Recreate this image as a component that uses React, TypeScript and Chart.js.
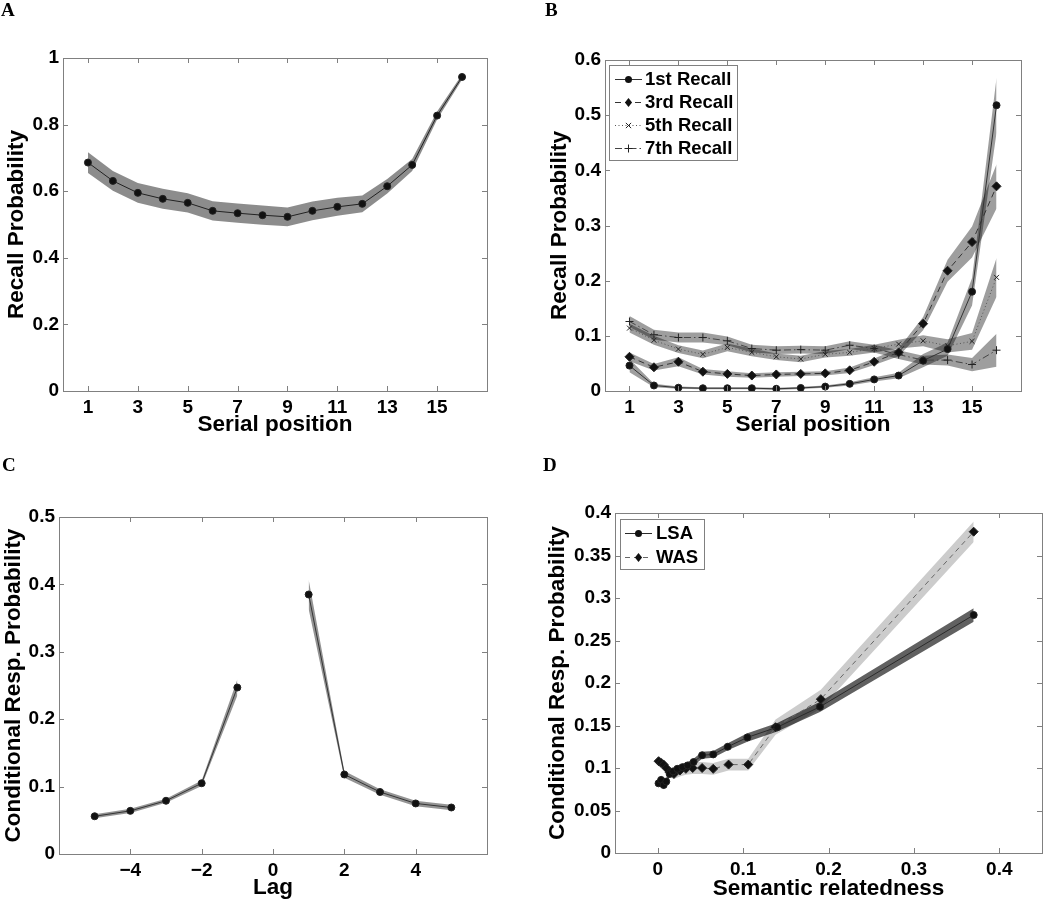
import React, { useEffect, useRef } from "react";
import { Chart, registerables } from "chart.js";

Chart.register(...registerables);
Chart.defaults.font.family = "'Liberation Sans', Arial, sans-serif";

// ---------- Panel A ----------
const SERIAL_POSITIONS = [1, 2, 3, 4, 5, 6, 7, 8, 9, 10, 11, 12, 13, 14, 15, 16];
const A_RECALL = [0.686, 0.631, 0.595, 0.577, 0.565, 0.541, 0.534, 0.528, 0.523, 0.541, 0.553, 0.562, 0.615, 0.679, 0.827, 0.943];
const A_ERR = [0.031, 0.03, 0.03, 0.03, 0.029, 0.029, 0.029, 0.029, 0.028, 0.028, 0.027, 0.025, 0.022, 0.018, 0.012, 0.008];
const SERIAL_TICKS = [1, 3, 5, 7, 9, 11, 13, 15];
const A_Y_TICKS = [0, 0.2, 0.4, 0.6, 0.8, 1];

// ---------- Panel B ----------
const B_LABELS = ["1st Recall", "3rd Recall", "5th Recall", "7th Recall"];
const B_REC1 = [0.046, 0.010, 0.006, 0.005, 0.005, 0.005, 0.004, 0.0055, 0.008, 0.013, 0.021, 0.028, 0.055, 0.076, 0.18, 0.518];
const B_ERR1 = [0.012, 0.003, 0.002, 0.002, 0.002, 0.002, 0.002, 0.002, 0.002, 0.003, 0.004, 0.005, 0.012, 0.012, 0.025, 0.05];
const B_REC3 = [0.062, 0.043, 0.053, 0.035, 0.031, 0.028, 0.030, 0.031, 0.032, 0.0375, 0.053, 0.070, 0.122, 0.218, 0.270, 0.371];
const B_ERR3 = [0.008, 0.006, 0.008, 0.005, 0.005, 0.004, 0.004, 0.004, 0.004, 0.005, 0.006, 0.007, 0.012, 0.02, 0.028, 0.04];
const B_REC5 = [0.114, 0.092, 0.076, 0.0665, 0.079, 0.070, 0.062, 0.058, 0.0665, 0.070, 0.077, 0.085, 0.091, 0.082, 0.090, 0.206];
const B_ERR5 = [0.008, 0.008, 0.007, 0.007, 0.007, 0.007, 0.006, 0.006, 0.006, 0.006, 0.007, 0.008, 0.01, 0.012, 0.015, 0.035];
const B_REC7 = [0.126, 0.102, 0.097, 0.097, 0.091, 0.077, 0.074, 0.075, 0.074, 0.083, 0.077, 0.066, 0.056, 0.056, 0.048, 0.074];
const B_ERR7 = [0.01, 0.009, 0.009, 0.009, 0.008, 0.007, 0.007, 0.007, 0.007, 0.007, 0.007, 0.008, 0.008, 0.01, 0.012, 0.03];
const B_Y_TICKS = [0, 0.1, 0.2, 0.3, 0.4, 0.5, 0.6];

// ---------- Panel C ----------
const LAGS = [-5, -4, -3, -2, -1, 1, 2, 3, 4, 5];
const CRP = [0.056, 0.064, 0.079, 0.105, 0.247, 0.385, 0.118, 0.092, 0.075, 0.069];
const CRP_ERR = [0.003, 0.003, 0.003, 0.004, 0.012, 0.022, 0.005, 0.004, 0.004, 0.004];
const LAG_TICKS = [-4, -2, 0, 2, 4];
const C_Y_TICKS = [0, 0.1, 0.2, 0.3, 0.4, 0.5];

// ---------- Panel D ----------
const D_LABELS = ["LSA", "WAS"];
const LSA_X = [0.001, 0.004, 0.007, 0.010, 0.014, 0.018, 0.023, 0.029, 0.035, 0.042, 0.052, 0.065, 0.082, 0.105, 0.140, 0.190, 0.370];
const LSA_Y = [0.082, 0.086, 0.080, 0.084, 0.093, 0.096, 0.099, 0.101, 0.103, 0.107, 0.115, 0.116, 0.125, 0.136, 0.148, 0.172, 0.280];
const LSA_ERR = [0.005, 0.005, 0.005, 0.004, 0.004, 0.004, 0.004, 0.004, 0.004, 0.004, 0.004, 0.004, 0.004, 0.005, 0.005, 0.006, 0.008];
const WAS_X = [0.001, 0.004, 0.007, 0.010, 0.014, 0.019, 0.026, 0.033, 0.041, 0.052, 0.065, 0.083, 0.106, 0.138, 0.191, 0.370];
const WAS_Y = [0.108, 0.106, 0.104, 0.100, 0.095, 0.093, 0.097, 0.099, 0.100, 0.100, 0.099, 0.104, 0.104, 0.148, 0.181, 0.378];
const WAS_ERR = [0.006, 0.006, 0.006, 0.006, 0.006, 0.006, 0.007, 0.007, 0.007, 0.007, 0.007, 0.007, 0.007, 0.009, 0.011, 0.012];
const D_X_TICKS = [0, 0.1, 0.2, 0.3, 0.4];
const D_Y_TICKS = [0, 0.05, 0.1, 0.15, 0.2, 0.25, 0.3, 0.35, 0.4];

// ---------- types ----------
type Series = {
  x: number[];
  y: number[];
  err: number[];
  band: string;
  line: string;
  lineWidth: number;
  dash: number[];
  marker: string;
  radius: number;
};

type LegendSpec = {
  box: [number, number, number, number];
  rows: number[];
  lineX: [number, number];
  textX: number;
  labels: string[];
  series: Series[];
};

type PanelSpec = {
  left: number;
  top: number;
  w: number;
  h: number;
  area: { l: number; t: number; r: number; b: number };
  xMin: number;
  xMax: number;
  yMin: number;
  yMax: number;
  xTicks: number[];
  yTicks: number[];
  xTitle: string;
  yTitle: string;
  yTitlePad: number;
  xTitlePad: number;
  series: Series[];
  legend?: LegendSpec;
  letter: { text: string; x: number; y: number };
};

const TICK_FONT = { size: 19, weight: "bold" as const };
const TITLE_FONT = { size: 22.5, weight: "bold" as const };

const fmt = (v: number) => {
  const s = String(Math.round(v * 1000) / 1000);
  return s.startsWith("-") ? "\u2212" + s.slice(1) : s;
};

function drawMarker(ctx: CanvasRenderingContext2D, style: string, x: number, y: number, r: number) {
  ctx.save();
  ctx.setLineDash([]);
  ctx.fillStyle = "#111";
  ctx.strokeStyle = "#222";
  ctx.lineWidth = 1;
  ctx.beginPath();
  if (style === "circle") {
    ctx.arc(x, y, r, 0, Math.PI * 2);
    ctx.fill();
  } else if (style === "rectRot") {
    ctx.moveTo(x, y - r);
    ctx.lineTo(x + r * 0.8, y);
    ctx.lineTo(x, y + r);
    ctx.lineTo(x - r * 0.8, y);
    ctx.closePath();
    ctx.fill();
  } else if (style === "crossRot") {
    const d = r * 0.75;
    ctx.moveTo(x - d, y - d);
    ctx.lineTo(x + d, y + d);
    ctx.moveTo(x + d, y - d);
    ctx.lineTo(x - d, y + d);
    ctx.stroke();
  } else if (style === "cross") {
    ctx.moveTo(x - r, y);
    ctx.lineTo(x + r, y);
    ctx.moveTo(x, y - r);
    ctx.lineTo(x, y + r);
    ctx.stroke();
  }
  ctx.restore();
}

const framePlugin = {
  id: "frame",
  afterDatasetsDraw(chart: any) {
    const { ctx, chartArea: a, scales } = chart;
    ctx.save();
    ctx.strokeStyle = "#808080";
    ctx.lineWidth = 1;
    ctx.setLineDash([]);
    ctx.strokeRect(Math.round(a.left) + 0.5, Math.round(a.top) + 0.5, Math.round(a.right - a.left), Math.round(a.bottom - a.top));
    const L = 5;
    ctx.beginPath();
    for (const t of scales.x.ticks) {
      const px = Math.round(scales.x.getPixelForValue(t.value)) + 0.5;
      ctx.moveTo(px, a.bottom);
      ctx.lineTo(px, a.bottom - L);
      ctx.moveTo(px, a.top);
      ctx.lineTo(px, a.top + L);
    }
    for (const t of scales.y.ticks) {
      const py = Math.round(scales.y.getPixelForValue(t.value)) + 0.5;
      ctx.moveTo(a.left, py);
      ctx.lineTo(a.left + L, py);
      ctx.moveTo(a.right, py);
      ctx.lineTo(a.right - L, py);
    }
    ctx.stroke();
    ctx.restore();
  },
  afterDraw(chart: any, _args: any, opts: any) {
    const spec: PanelSpec = opts.spec;
    const { ctx } = chart;
    ctx.save();
    // panel letter
    ctx.fillStyle = "#000";
    ctx.font = "bold 19px 'Liberation Serif', 'Times New Roman', serif";
    ctx.textBaseline = "alphabetic";
    ctx.textAlign = "left";
    ctx.fillText(spec.letter.text, spec.letter.x, spec.letter.y);
    // legend
    const lg = spec.legend;
    if (lg) {
      const [x1, y1, x2, y2] = lg.box;
      ctx.fillStyle = "#fff";
      ctx.fillRect(x1, y1, x2 - x1, y2 - y1);
      ctx.strokeStyle = "#808080";
      ctx.lineWidth = 1;
      ctx.strokeRect(x1 + 0.5, y1 + 0.5, x2 - x1, y2 - y1);
      lg.rows.forEach((ry, i) => {
        const s = lg.series[i];
        ctx.save();
        ctx.strokeStyle = s.line;
        ctx.lineWidth = s.lineWidth;
        ctx.setLineDash(s.dash);
        ctx.beginPath();
        ctx.moveTo(lg.lineX[0], ry + 0.5);
        ctx.lineTo(lg.lineX[1], ry + 0.5);
        ctx.stroke();
        ctx.restore();
        drawMarker(ctx, s.marker, (lg.lineX[0] + lg.lineX[1]) / 2, ry + 0.5, s.radius);
        ctx.fillStyle = "#000";
        ctx.font = "bold 18.5px 'Liberation Sans', Arial, sans-serif";
        ctx.textBaseline = "middle";
        ctx.textAlign = "left";
        ctx.fillText(lg.labels[i], lg.textX, ry + 1);
      });
    }
    ctx.restore();
  },
};

function buildConfig(spec: PanelSpec): any {
  const datasets: any[] = [];
  spec.series.forEach((s) => {
    datasets.push({
      data: s.x.map((xx, i) => ({ x: xx, y: s.y[i] })),
      borderColor: s.line,
      borderWidth: s.lineWidth,
      borderDash: s.dash,
      pointStyle: s.marker,
      pointRadius: s.radius,
      pointBackgroundColor: "#111",
      pointBorderColor: "#222",
      pointBorderWidth: 1,
      fill: false,
      tension: 0,
      order: 0,
    });
  });
  spec.series.forEach((s) => {
    const lowerIdx = datasets.length;
    datasets.push({
      data: s.x.map((xx, i) => ({ x: xx, y: s.y[i] - s.err[i] })),
      borderWidth: 0,
      borderColor: "rgba(0,0,0,0)",
      pointRadius: 0,
      fill: false,
      tension: 0,
      order: 1,
    });
    datasets.push({
      data: s.x.map((xx, i) => ({ x: xx, y: s.y[i] + s.err[i] })),
      borderWidth: 0,
      borderColor: "rgba(0,0,0,0)",
      backgroundColor: s.band,
      pointRadius: 0,
      fill: lowerIdx,
      tension: 0,
      order: 1,
    });
  });

  const a = spec.area;
  return {
    type: "line",
    data: { datasets },
    plugins: [framePlugin],
    options: {
      animation: false,
      responsive: false,
      maintainAspectRatio: false,
      events: [],
      layout: { padding: { left: 0, top: a.t, right: spec.w - a.r, bottom: 0 } },
      plugins: {
        legend: { display: false },
        tooltip: { enabled: false },
        frame: { spec },
      },
      scales: {
        x: {
          type: "linear",
          min: spec.xMin,
          max: spec.xMax,
          afterBuildTicks: (sc: any) => {
            sc.ticks = spec.xTicks.map((v) => ({ value: v }));
          },
          afterFit: (sc: any) => {
            sc.height = spec.h - a.b;
          },
          ticks: {
            font: TICK_FONT,
            color: "#000",
            padding: 5,
            autoSkip: false,
            maxRotation: 0,
            callback: (v: number) => fmt(v),
          },
          grid: { display: false, drawTicks: false },
          border: { display: false },
          title: {
            display: true,
            text: spec.xTitle,
            font: TITLE_FONT,
            color: "#000",
            padding: { top: 0, bottom: spec.xTitlePad },
          },
        },
        y: {
          type: "linear",
          min: spec.yMin,
          max: spec.yMax,
          afterBuildTicks: (sc: any) => {
            sc.ticks = spec.yTicks.map((v) => ({ value: v }));
          },
          afterFit: (sc: any) => {
            sc.width = a.l;
          },
          ticks: {
            font: TICK_FONT,
            color: "#000",
            padding: 4,
            autoSkip: false,
            callback: (v: number) => fmt(v),
          },
          grid: { display: false, drawTicks: false },
          border: { display: false },
          title: {
            display: true,
            text: spec.yTitle,
            font: TITLE_FONT,
            color: "#000",
            padding: { top: spec.yTitlePad, bottom: 0 },
          },
        },
      },
    },
  };
}

// ---------- series definitions ----------
const seriesA: Series[] = [
  { x: SERIAL_POSITIONS, y: A_RECALL, err: A_ERR, band: "rgba(0,0,0,0.45)", line: "#222", lineWidth: 1, dash: [], marker: "circle", radius: 3.5 },
];

const B_BAND = "rgba(0,0,0,0.38)";
const seriesB: Series[] = [
  { x: SERIAL_POSITIONS, y: B_REC1, err: B_ERR1, band: B_BAND, line: "#333", lineWidth: 1, dash: [], marker: "circle", radius: 3.5 },
  { x: SERIAL_POSITIONS, y: B_REC3, err: B_ERR3, band: B_BAND, line: "#333", lineWidth: 1, dash: [6, 4], marker: "rectRot", radius: 4.5 },
  { x: SERIAL_POSITIONS, y: B_REC5, err: B_ERR5, band: B_BAND, line: "#555", lineWidth: 1, dash: [1, 2.5], marker: "crossRot", radius: 3.5 },
  { x: SERIAL_POSITIONS, y: B_REC7, err: B_ERR7, band: B_BAND, line: "#444", lineWidth: 1, dash: [7, 3, 1.5, 3], marker: "cross", radius: 4 },
];

const negIdx = LAGS.map((l, i) => (l < 0 ? i : -1)).filter((i) => i >= 0);
const posIdx = LAGS.map((l, i) => (l > 0 ? i : -1)).filter((i) => i >= 0);
const seriesC: Series[] = [negIdx, posIdx].map((idx) => ({
  x: idx.map((i) => LAGS[i]),
  y: idx.map((i) => CRP[i]),
  err: idx.map((i) => CRP_ERR[i]),
  band: "rgba(0,0,0,0.42)",
  line: "#333",
  lineWidth: 1,
  dash: [],
  marker: "circle",
  radius: 3.5,
}));

const seriesD: Series[] = [
  { x: LSA_X, y: LSA_Y, err: LSA_ERR, band: "rgba(0,0,0,0.62)", line: "#2a2a2a", lineWidth: 1, dash: [], marker: "circle", radius: 3.5 },
  { x: WAS_X, y: WAS_Y, err: WAS_ERR, band: "rgba(0,0,0,0.2)", line: "#666", lineWidth: 1, dash: [5, 4], marker: "rectRot", radius: 4.5 },
];

const PANELS: PanelSpec[] = [
  {
    left: 0, top: 0, w: 525, h: 451,
    area: { l: 63, t: 58, r: 487, b: 391 },
    xMin: 0, xMax: 17, yMin: 0, yMax: 1,
    xTicks: SERIAL_TICKS, yTicks: A_Y_TICKS,
    xTitle: "Serial position", yTitle: "Recall Probability",
    yTitlePad: 3.5, xTitlePad: 12.5,
    series: seriesA,
    letter: { text: "A", x: 1, y: 16 },
  },
  {
    left: 525, top: 0, w: 525, h: 451,
    area: { l: 80, t: 60, r: 496, b: 391 },
    xMin: 0, xMax: 17, yMin: 0, yMax: 0.6,
    xTicks: SERIAL_TICKS, yTicks: B_Y_TICKS,
    xTitle: "Serial position", yTitle: "Recall Probability",
    yTitlePad: 21.5, xTitlePad: 12.5,
    series: seriesB,
    legend: { box: [84, 65, 212, 160], rows: [79, 102, 125, 148], lineX: [90, 117], textX: 120, labels: B_LABELS, series: seriesB },
    letter: { text: "B", x: 20, y: 16 },
  },
  {
    left: 0, top: 451, w: 525, h: 451,
    area: { l: 59, t: 66, r: 487, b: 403 },
    xMin: -6, xMax: 6, yMin: 0, yMax: 0.5,
    xTicks: LAG_TICKS, yTicks: C_Y_TICKS,
    xTitle: "Lag", yTitle: "Conditional Resp. Probability",
    yTitlePad: 0.5, xTitlePad: 0.9,
    series: seriesC,
    letter: { text: "C", x: 2, y: 20 },
  },
  {
    left: 525, top: 451, w: 525, h: 451,
    area: { l: 90, t: 62, r: 517, b: 402 },
    xMin: -0.05, xMax: 0.45, yMin: 0, yMax: 0.4,
    xTicks: D_X_TICKS, yTicks: D_Y_TICKS,
    xTitle: "Semantic relatedness", yTitle: "Conditional Resp. Probability",
    yTitlePad: 19, xTitlePad: 0,
    series: seriesD,
    legend: { box: [95, 68, 179, 118], rows: [82, 106], lineX: [100, 127], textX: 131, labels: D_LABELS, series: seriesD },
    letter: { text: "D", x: 18, y: 20 },
  },
];

function Panel({ spec }: { spec: PanelSpec }) {
  const ref = useRef<HTMLCanvasElement | null>(null);
  useEffect(() => {
    if (!ref.current) return;
    const chart = new Chart(ref.current, buildConfig(spec));
    return () => chart.destroy();
  }, [spec]);
  return (
    <canvas
      ref={ref}
      width={spec.w}
      height={spec.h}
      style={{ position: "absolute", left: spec.left, top: spec.top, width: spec.w, height: spec.h }}
    />
  );
}

export default function App() {
  return (
    <div style={{ position: "absolute", left: 0, top: 0, width: 1050, height: 902, background: "#fff", overflow: "hidden" }}>
      {PANELS.map((p, i) => (
        <Panel key={i} spec={p} />
      ))}
    </div>
  );
}
